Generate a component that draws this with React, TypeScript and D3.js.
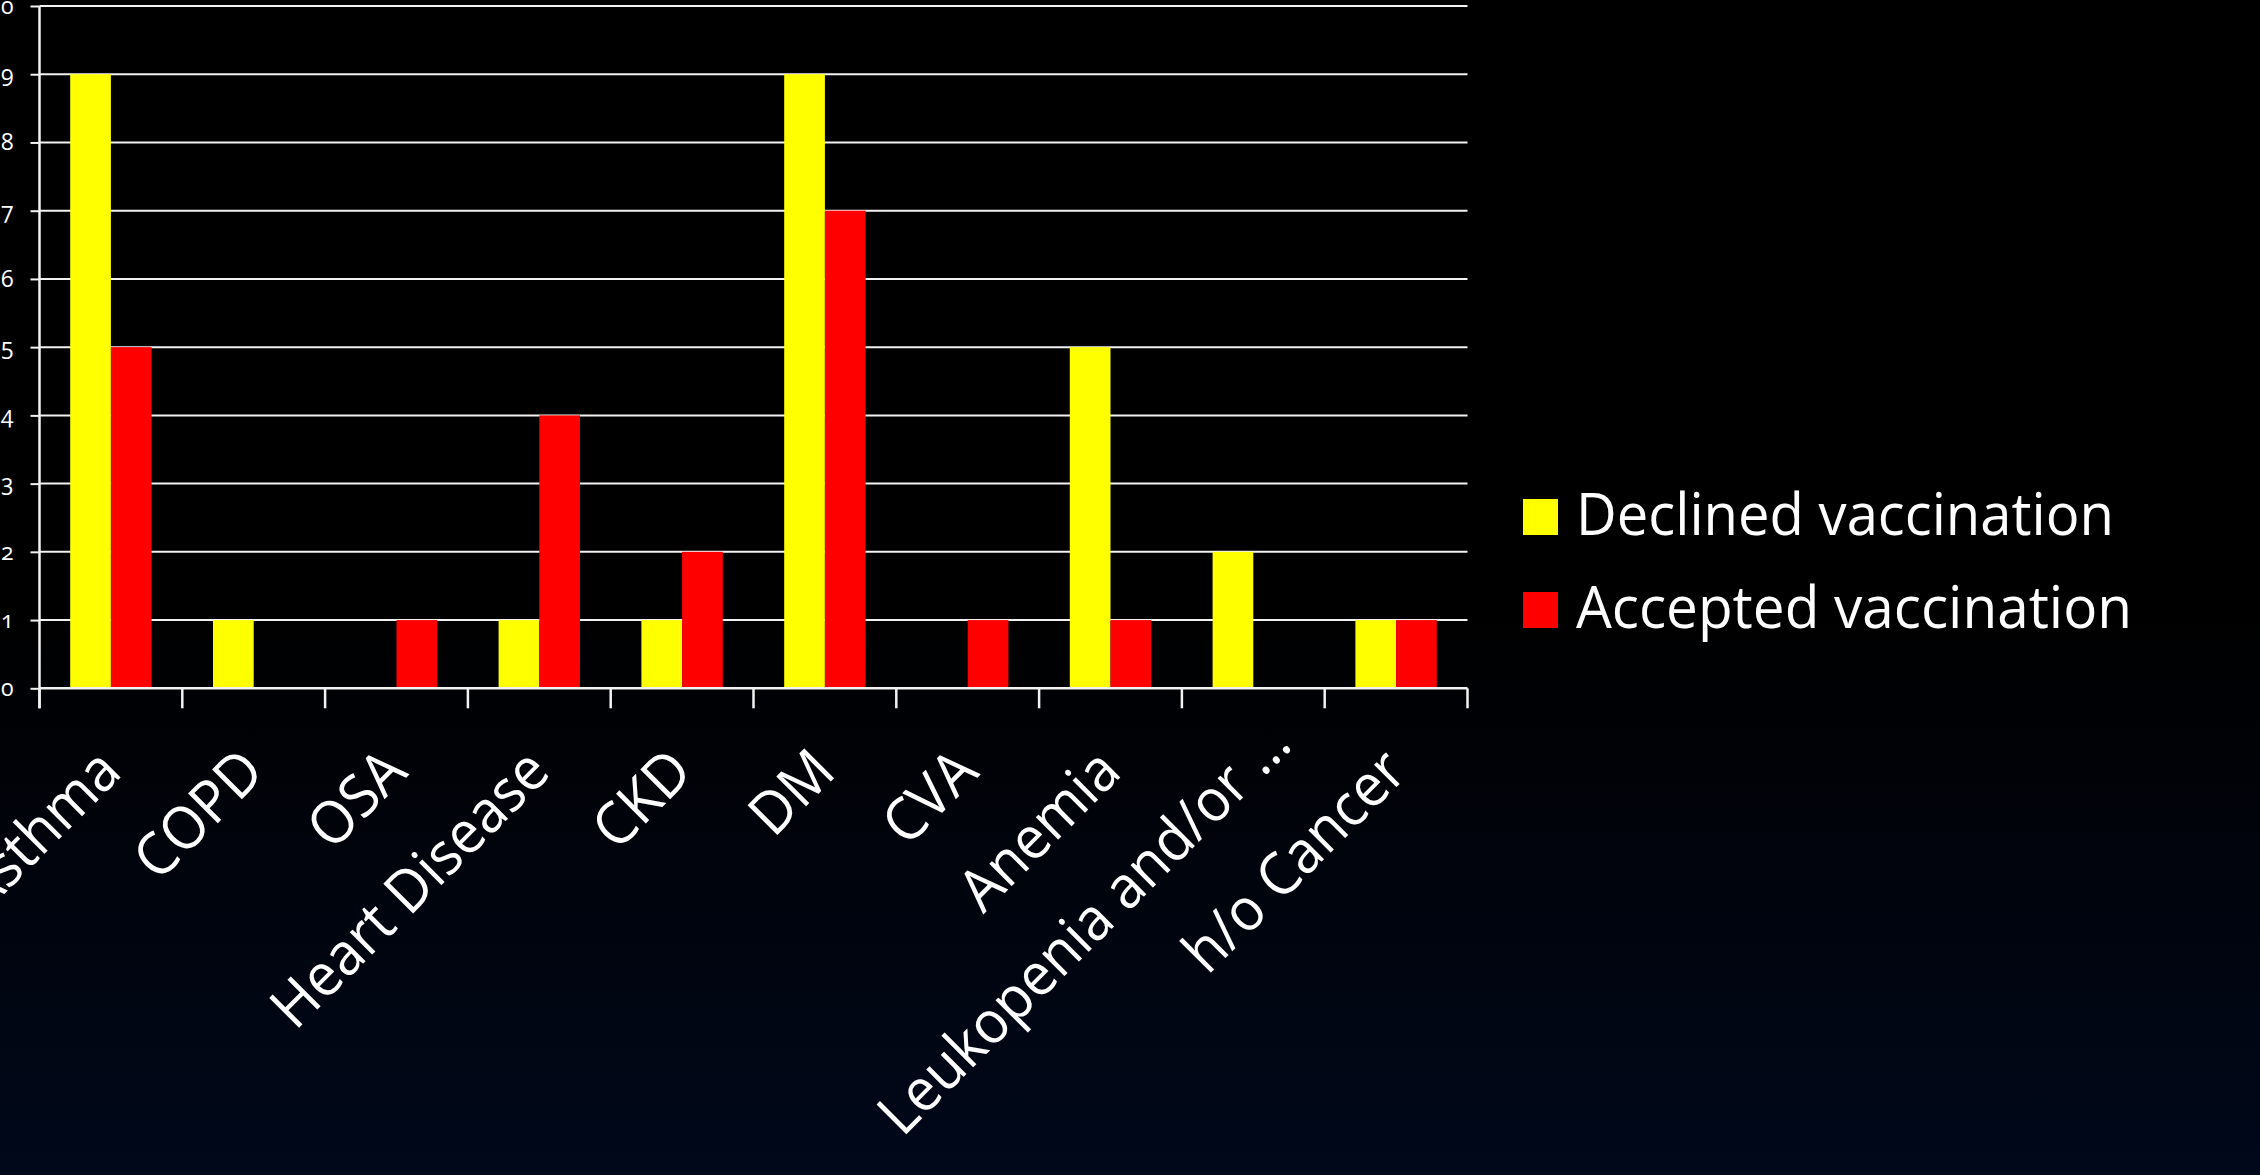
import React, { useEffect, useRef } from 'react';
import * as d3 from 'd3';

const categories = ['Asthma', 'COPD', 'OSA', 'Heart Disease', 'CKD', 'DM', 'CVA', 'Anemia', 'Leukopenia and/or …', 'h/o Cancer'];
const seriesNames = ['Declined vaccination', 'Accepted vaccination'];
const declined = [9, 1, 0, 1, 1, 9, 0, 5, 2, 1];
const accepted = [5, 0, 1, 4, 2, 7, 1, 1, 0, 1];
const yTicks = [0, 1, 2, 3, 4, 5, 6, 7, 8, 9, 10];
const colors = ['#FFFF00', '#FF0000'];

const W = 2260;
const H = 1175;
const FONT = "'Open Sans', 'Noto Sans', sans-serif";

export default function App() {
  const ref = useRef<SVGSVGElement | null>(null);

  useEffect(() => {
    document.body.style.margin = '0';
    const svg = d3.select(ref.current);
    svg.selectAll('*').remove();

    // background gradient
    const defs = svg.append('defs');
    const bg = defs.append('linearGradient')
      .attr('id', 'bg')
      .attr('x1', '0%').attr('x2', '0%')
      .attr('y1', '0%').attr('y2', '100%');
    bg.append('stop').attr('offset', '0%').attr('stop-color', '#000000');
    bg.append('stop').attr('offset', '52%').attr('stop-color', '#000000');
    bg.append('stop').attr('offset', '100%').attr('stop-color', '#00081a');
    svg.append('rect').attr('width', W).attr('height', H).attr('fill', 'url(#bg)');

    const left = 39.5, right = 1467.5, top = 6, bottom = 688.3;

    const x0 = d3.scaleBand<string>().domain(categories).range([left, right]).padding(0);
    const x1 = d3.scaleBand<string>().domain(seriesNames).range([0, x0.bandwidth()])
      .paddingInner(0).paddingOuter(0.754);
    const y = d3.scaleLinear().domain([0, 10]).range([bottom, top]);

    // grid lines
    svg.append('g')
      .selectAll('line')
      .data(yTicks.slice(1))
      .enter()
      .append('line')
      .attr('x1', left)
      .attr('x2', right)
      .attr('y1', d => y(d))
      .attr('y2', d => y(d))
      .attr('stroke', '#f2f2f2')
      .attr('stroke-width', 2);

    // bars
    const rows = categories.map((c, i) => ({ c, vals: [declined[i], accepted[i]] }));
    const groups = svg.append('g')
      .selectAll('g')
      .data(rows)
      .enter()
      .append('g')
      .attr('transform', d => `translate(${x0(d.c)},0)`);
    groups.selectAll('rect')
      .data(d => d.vals.map((v, k) => ({ k, v })))
      .enter()
      .append('rect')
      .attr('x', d => x1(seriesNames[d.k]) as number)
      .attr('width', x1.bandwidth())
      .attr('y', d => y(d.v))
      .attr('height', d => y(0) - y(d.v))
      .attr('fill', d => colors[d.k]);

    // y axis
    svg.append('g')
      .attr('transform', `translate(${left},0)`)
      .call(d3.axisLeft(y).tickValues(yTicks).tickSize(9).tickPadding(17).tickFormat(d3.format('d')))
      .call(g => g.select('.domain').remove())
      .call(g => g.selectAll('.tick line').attr('stroke', '#f2f2f2').attr('stroke-width', 2))
      .call(g => g.selectAll('.tick text')
        .attr('fill', '#ffffff')
        .style('font-family', FONT)
        .style('font-size', '23px')
        .style('font-variant-numeric', 'oldstyle-nums'));

    svg.append('line')
      .attr('x1', left).attr('x2', left)
      .attr('y1', top).attr('y2', bottom + 20)
      .attr('stroke', '#f2f2f2').attr('stroke-width', 2.5);

    // x axis
    const xa = svg.append('g');
    xa.append('line')
      .attr('x1', left).attr('x2', right)
      .attr('y1', bottom).attr('y2', bottom)
      .attr('stroke', '#f2f2f2').attr('stroke-width', 2.5);
    xa.selectAll('line.tk')
      .data([...categories.map(c => x0(c) as number), right])
      .enter()
      .append('line')
      .attr('class', 'tk')
      .attr('x1', d => d).attr('x2', d => d)
      .attr('y1', bottom).attr('y2', bottom + 20)
      .attr('stroke', '#f2f2f2').attr('stroke-width', 2.5);

    // rotated category labels (the truncated one sits a bit further along)
    xa.selectAll('text')
      .data(categories)
      .enter()
      .append('text')
      .attr('transform', c => `translate(${(x0(c) as number) + x0.bandwidth() / 2 + 13},${bottom + 86}) rotate(-45) scale(0.95,1)`)
      .attr('dx', c => (c.endsWith('…') ? 41 : 0))
      .attr('text-anchor', 'end')
      .attr('fill', '#ffffff')
      .style('font-family', FONT)
      .style('font-size', '59px')
      .text(c => c);

    // legend
    const lg = svg.append('g').attr('transform', 'translate(1523,0)');
    const legendBase = [535, 628];
    const legendWidth = [538, 556];
    seriesNames.forEach((s, i) => {
      lg.append('rect')
        .attr('x', 0).attr('y', legendBase[i] - 36)
        .attr('width', 35).attr('height', 36)
        .attr('fill', colors[i]);
      lg.append('text')
        .attr('x', 53).attr('y', legendBase[i])
        .attr('fill', '#ffffff')
        .attr('textLength', legendWidth[i])
        .attr('lengthAdjust', 'spacingAndGlyphs')
        .style('font-family', FONT)
        .style('font-size', '59px')
        .text(s);
    });
  }, []);

  return (
    <div style={{ position: 'absolute', left: 0, top: 0, width: W, height: H, background: '#000' }}>
      <svg ref={ref} width={W} height={H} style={{ display: 'block' }} />
    </div>
  );
}
